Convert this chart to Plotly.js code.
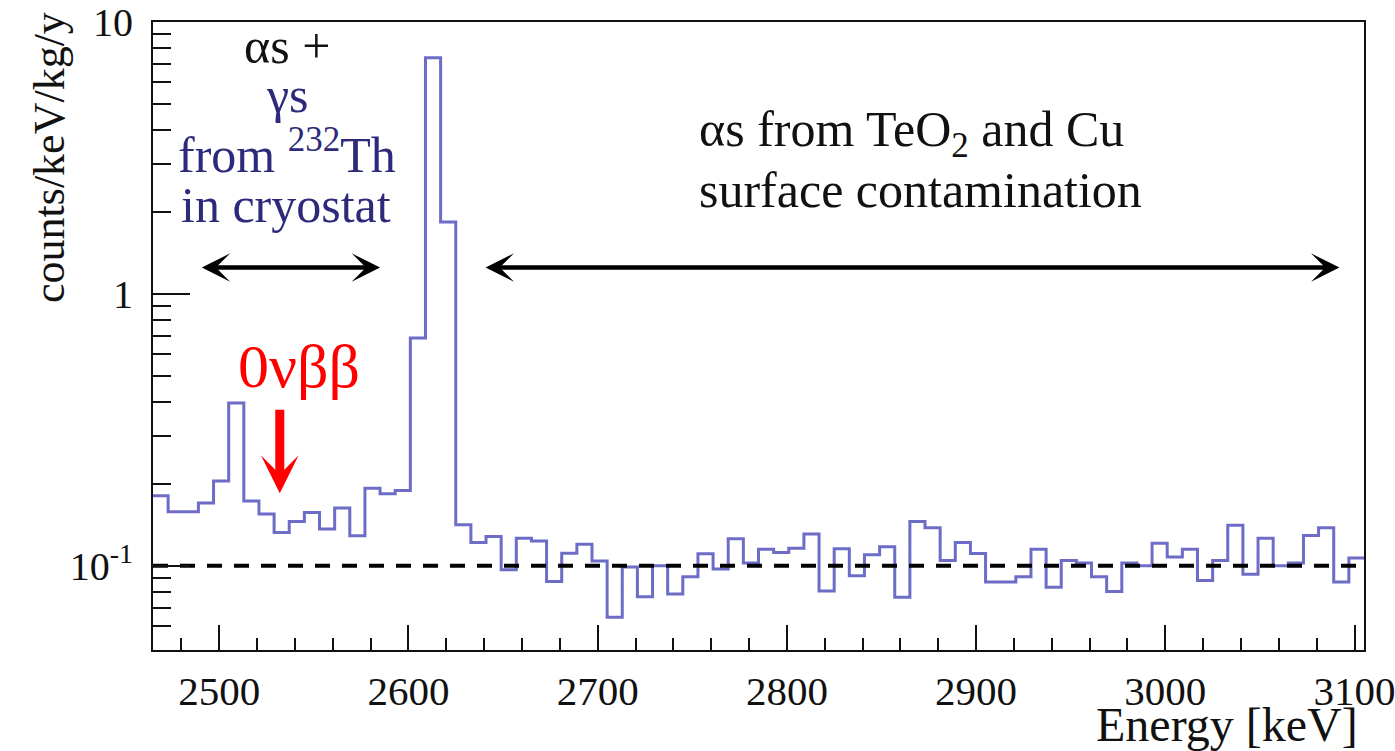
<!DOCTYPE html>
<html>
<head>
<meta charset="utf-8">
<script src="https://cdn.plot.ly/plotly-3.0.1.min.js"></script>
<style>
  html, body { margin: 0; padding: 0; background: #ffffff; }
  #chart { width: 1395px; height: 751px; font-family: 'Liberation Serif'; }
</style>
</head>
<body>
<div id="chart"></div>
<script>
// Energy binning of the background spectrum (keV)
const binStart = 2465;
const binWidth = 8;

// Background rate in each 8 keV bin, counts/keV/kg/y
const rates = [
  0.181, 0.158, 0.158, 0.170, 0.205, 0.397, 0.173, 0.155, 0.1325, 0.1455,
  0.157, 0.1365, 0.163, 0.129, 0.193, 0.184, 0.189, 0.688, 7.39, 1.84,
  0.1415, 0.1217, 0.128, 0.0966, 0.1263, 0.1233, 0.0875, 0.1112, 0.120, 0.1042,
  0.0647, 0.0989, 0.077, 0.100, 0.0788, 0.0912, 0.1106, 0.0972, 0.1256, 0.1023,
  0.1151, 0.1120, 0.116, 0.131, 0.0808, 0.1154, 0.0918, 0.1097, 0.1175, 0.0766,
  0.1455, 0.138, 0.1045, 0.1217, 0.111, 0.0871, 0.0871, 0.0912, 0.1151, 0.0834,
  0.1045, 0.1023, 0.0912, 0.0804, 0.1023, 0.100, 0.121, 0.1076, 0.1151, 0.0882,
  0.1045, 0.1408, 0.0931, 0.1263, 0.100, 0.1023, 0.1292, 0.138, 0.0871, 0.1067
];

// Axis extents
const energyRange = [2465, 3105];
const rateRange = [0.049, 10];

// Flat alpha continuum level
const flatLevel = 0.1;

// Log-axis ticks
const majorRateTicks = [0.1, 1, 10];
const majorRateText = ['10<sup>-1</sup>', '1', '10'];
const minorRateTicks = [0.06, 0.07, 0.08, 0.09,
  0.2, 0.3, 0.4, 0.5, 0.6, 0.7, 0.8, 0.9,
  2, 3, 4, 5, 6, 7, 8, 9];

// Region markers
const qValue = 2532;                 // 0νββ region
const qArrowLevels = [0.38, 0.185];  // arrow tail / tip
const thoriumSpan = [2490, 2585];
const alphaSpan = [2640, 3092];
const spanLevel = 1.25;

// Step outline through bin edges
const stepX = rates.map((_, i) => binStart + i * binWidth)
  .concat([binStart + rates.length * binWidth]);
const stepY = rates.concat([rates[rates.length - 1]]);

const serifFamily = 'Liberation Serif';
const navy = '#2d2a7c';
const L = 153, R = 31, T = 22, B = 101, W = 1395, H = 751;
const PW = W - L - R, PH = H - T - B;
const px = X => (X - L) / PW;
const py = Y => (H - B - Y) / PH;
const lg = v => Math.log10(v);

const traces = [
  {
    x: energyRange, y: [flatLevel, flatLevel],
    mode: 'lines', yaxis: 'y2',
    line: { color: '#000000', width: 4, dash: '15px,12px' },
    hoverinfo: 'skip'
  },
  {
    x: stepX, y: stepY,
    mode: 'lines',
    line: { shape: 'hv', color: '#6d6dc8', width: 3 },
    hoverinfo: 'skip'
  }
];

const textAnn = (text, x, y, size, color, xanchor) => ({
  xref: 'paper', yref: 'paper', x: px(x), y: py(y),
  xanchor: xanchor || 'center', yanchor: 'middle',
  text: text, showarrow: false,
  font: { family: serifFamily, size: size, color: color }
});

const spanArrow = (span) => ({
  xref: 'x', yref: 'y', axref: 'x', ayref: 'y',
  x: span[1], y: lg(spanLevel), ax: span[0], ay: lg(spanLevel),
  text: '', showarrow: true, arrowside: 'end+start',
  arrowhead: 3, startarrowhead: 3, arrowsize: 1.05, startarrowsize: 1.05,
  arrowwidth: 4.5, arrowcolor: '#000000', standoff: 0, startstandoff: 0
});

const annotations = [
  textAnn('αs +', 287, 46, 50, '#111111'),
  textAnn('γs', 287, 95, 50, navy),
  textAnn('from <sup>232</sup>Th', 287, 151, 50, navy),
  textAnn('in cryostat', 286, 205, 50, navy),
  textAnn('αs from TeO<sub>2</sub> and Cu', 697, 133, 50, '#111111', 'left'),
  textAnn('surface contamination', 697, 190, 50, '#111111', 'left'),
  textAnn('0νββ', 299, 366, 62, '#ff0000'),
  spanArrow(thoriumSpan),
  spanArrow(alphaSpan),
  {
    xref: 'x', yref: 'y', axref: 'x', ayref: 'y',
    x: qValue, y: lg(qArrowLevels[1]), ax: qValue, ay: lg(qArrowLevels[0]),
    text: '', showarrow: true, arrowhead: 3, arrowsize: 0.7,
    arrowwidth: 9, arrowcolor: '#ff0000', standoff: 0
  },
  // axis titles
  {
    xref: 'paper', yref: 'paper', x: px(1360), y: py(724),
    xanchor: 'right', yanchor: 'middle', showarrow: false,
    text: 'Energy [keV]', font: { family: serifFamily, size: 48, color: '#111111' }
  },
  {
    xref: 'paper', yref: 'paper', x: px(50), y: py(158),
    xanchor: 'center', yanchor: 'middle', showarrow: false, textangle: -90,
    text: 'counts/keV/kg/y', font: { family: serifFamily, size: 44, color: '#111111' }
  }
];

const layout = {
  width: W, height: H,
  margin: { l: L, r: R, t: T, b: B, pad: 0 },
  paper_bgcolor: '#ffffff', plot_bgcolor: '#ffffff',
  showlegend: false,
  xaxis: {
    range: energyRange, automargin: false,
    showgrid: false, zeroline: false,
    showline: true, mirror: true, linecolor: '#111111', linewidth: 2,
    ticks: 'inside', ticklen: 25, tickwidth: 2, tickcolor: '#111111',
    tick0: 2500, dtick: 100,
    minor: { ticks: 'inside', dtick: 20, ticklen: 12, tickwidth: 2, tickcolor: '#111111' },
    tickfont: { family: serifFamily, size: 41, color: '#111111' },
    ticklabeloverflow: 'allow',
    ticklabelstandoff: 4
  },
  yaxis: {
    type: 'log', range: [lg(rateRange[0]), lg(rateRange[1])], automargin: false,
    showgrid: false, zeroline: false,
    showline: true, mirror: true, linecolor: '#111111', linewidth: 2,
    ticks: 'inside', ticklen: 37, tickwidth: 2, tickcolor: '#111111',
    tickmode: 'array', tickvals: majorRateTicks, ticktext: majorRateText,
    tickfont: { family: serifFamily, size: 40, color: '#111111' },
    ticklabelstandoff: 10
  },
  yaxis2: {
    type: 'log', range: [lg(rateRange[0]), lg(rateRange[1])],
    overlaying: 'y', side: 'left', anchor: 'x',
    showgrid: false, zeroline: false, showline: false,
    ticks: 'inside', ticklen: 18, tickwidth: 2, tickcolor: '#111111',
    tickmode: 'array', tickvals: minorRateTicks, showticklabels: false
  },
  annotations: annotations
};

const draw = () => Plotly.react('chart', traces, layout, { displayModeBar: false });
draw();
// Redraw once the serif face is ready so text boxes are measured with it
if (document.fonts && document.fonts.load) {
  document.fonts.load('40px "Liberation Serif"', '0123456789 αβγν').then(draw, () => {});
}
</script>
</body>
</html>
